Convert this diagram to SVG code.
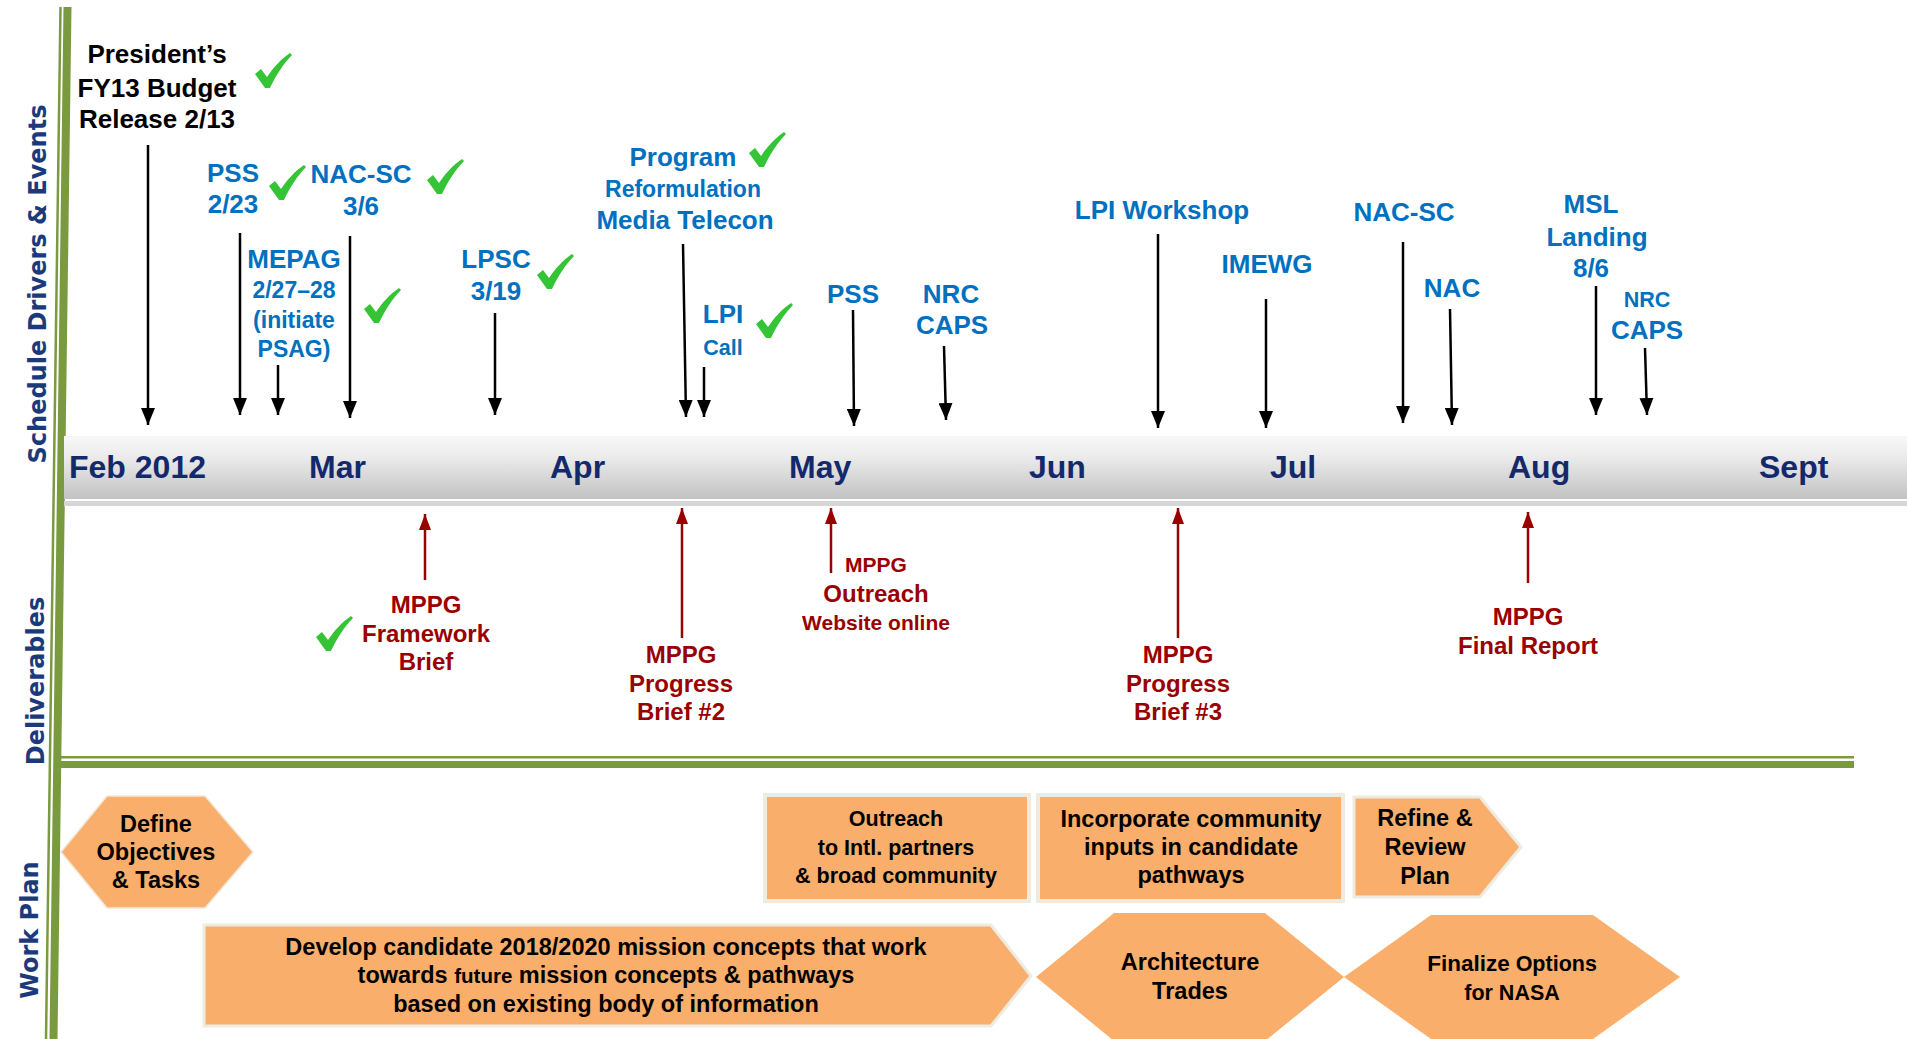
<svg xmlns="http://www.w3.org/2000/svg" xmlns:xlink="http://www.w3.org/1999/xlink" width="1907" height="1039" viewBox="0 0 1907 1039">
<style>
text{font-family:"Liberation Sans",Arial,sans-serif;font-weight:bold;}
.side{font-family:"DejaVu Sans","Liberation Sans",sans-serif;font-size:24px;fill:#1B3A7C;}
.blk{font-size:26px;fill:#000;}
.blu{font-size:26px;fill:#0070C0;text-anchor:middle;}
.blus{font-size:23px;fill:#0070C0;text-anchor:middle;}
.blux{font-size:21.5px;fill:#0070C0;text-anchor:middle;}
.red{font-size:24px;fill:#990000;text-anchor:middle;}
.reds{font-size:21px;fill:#990000;text-anchor:middle;}
.mon{font-size:32px;fill:#13296B;}
.wp{font-size:23.5px;fill:#000;text-anchor:middle;}
.wps{font-size:21.5px;fill:#000;text-anchor:middle;}
.orange{fill:#FAAE6B;}
.frame{fill:#EEEBE0;}
.ba{stroke:#000;stroke-width:2.5;fill:none;marker-end:url(#ah);}
.ra{stroke:#990000;stroke-width:2.5;fill:none;marker-end:url(#rh);}
.green{fill:#7A9A40;}
</style>
<defs>
<linearGradient id="bar" x1="0" y1="0" x2="0" y2="1">
<stop offset="0" stop-color="#F8F8F8"/>
<stop offset="0.35" stop-color="#EAEAEA"/>
<stop offset="1" stop-color="#C2C2C2"/>
</linearGradient>
<marker id="ah" markerWidth="17" markerHeight="14" refX="17" refY="7" orient="auto" markerUnits="userSpaceOnUse" viewBox="0 0 17 14">
<path d="M0,0 L17,7 L0,14 Z" fill="#000"/>
</marker>
<marker id="rh" markerWidth="16" markerHeight="12" refX="16" refY="6" orient="auto" markerUnits="userSpaceOnUse" viewBox="0 0 16 12">
<path d="M0,0 L16,6 L0,12 Z" fill="#990000"/>
</marker>
<path id="chk" d="M0,21 L6,16 L12,24 C18,15 26,6 35,0 L37,2 C29,10 21,22 15,35 L10,35 Z" fill="#35C435"/>
</defs>
<rect width="1907" height="1039" fill="#fff"/>

<!-- frame lines -->
<g id="frame-lines">
<line x1="60.5" y1="7" x2="46" y2="1039" stroke="#7A9A40" stroke-width="2.5"/>
<line x1="67.5" y1="7" x2="53.5" y2="1039" stroke="#7A9A40" stroke-width="8"/>
<rect x="57" y="756" width="1797" height="2.5" class="green"/>
<rect x="57" y="761" width="1797" height="7" class="green"/>
</g>

<!-- lane labels -->
<g id="lane-labels">
<text class="side" text-anchor="middle" transform="translate(46,284) rotate(-90)">Schedule Drivers &amp; Events</text>
<text class="side" text-anchor="middle" transform="translate(44,681) rotate(-90)">Deliverables</text>
<text class="side" text-anchor="middle" transform="translate(38,930) rotate(-90)">Work Plan</text>
</g>

<!-- timeline -->
<g id="timeline">
<rect x="64" y="436" width="1843" height="63" fill="url(#bar)"/>
<rect x="64" y="501" width="1843" height="5" fill="#D6D6D6"/>
<text class="mon" x="69" y="478">Feb 2012</text>
<text class="mon" x="309" y="478">Mar</text>
<text class="mon" x="550" y="478">Apr</text>
<text class="mon" x="789" y="478">May</text>
<text class="mon" x="1029" y="478">Jun</text>
<text class="mon" x="1270" y="478">Jul</text>
<text class="mon" x="1508" y="478">Aug</text>
<text class="mon" x="1759" y="478">Sept</text>
</g>

<!-- connectors -->
<g id="connectors">
<line class="ba" x1="148" y1="145" x2="148" y2="425"/>
<line class="ba" x1="240" y1="233" x2="240" y2="415"/>
<line class="ba" x1="278" y1="365" x2="278" y2="415"/>
<line class="ba" x1="350" y1="236" x2="350" y2="418"/>
<line class="ba" x1="495" y1="313" x2="495" y2="415"/>
<line class="ba" x1="683" y1="244" x2="686" y2="417"/>
<line class="ba" x1="704" y1="367" x2="704" y2="417"/>
<line class="ba" x1="853" y1="310" x2="854" y2="426"/>
<line class="ba" x1="944" y1="346" x2="946" y2="420"/>
<line class="ba" x1="1158" y1="234" x2="1158" y2="428"/>
<line class="ba" x1="1266" y1="299" x2="1266" y2="428"/>
<line class="ba" x1="1403" y1="242" x2="1403" y2="423"/>
<line class="ba" x1="1450" y1="309" x2="1452" y2="425"/>
<line class="ba" x1="1596" y1="286" x2="1596" y2="415"/>
<line class="ba" x1="1645" y1="348" x2="1647" y2="415"/>
<line class="ra" x1="425" y1="580" x2="425" y2="514"/>
<line class="ra" x1="682" y1="638" x2="682" y2="508"/>
<line class="ra" x1="831" y1="573" x2="831" y2="508"/>
<line class="ra" x1="1178" y1="638" x2="1178" y2="508"/>
<line class="ra" x1="1528" y1="583" x2="1528" y2="512"/>
</g>

<!-- events -->
<g id="ev-budget">
<text class="blk" x="157" y="63" text-anchor="middle">President’s</text>
<text class="blk" x="157" y="97" text-anchor="middle">FY13 Budget</text>
<text class="blk" x="157" y="128" text-anchor="middle">Release 2/13</text>
<use xlink:href="#chk" x="255" y="53"/>
</g>
<g id="ev-pss1">
<text class="blu" x="233" y="182">PSS</text>
<text class="blu" x="233" y="213">2/23</text>
<use xlink:href="#chk" x="269" y="165"/>
</g>
<g id="ev-nacsc1">
<text class="blu" x="361" y="183">NAC-SC</text>
<text class="blu" x="361" y="215">3/6</text>
<use xlink:href="#chk" x="427" y="159"/>
</g>
<g id="ev-mepag">
<text class="blu" x="294" y="268">MEPAG</text>
<text class="blus" x="294" y="298">2/27–28</text>
<text class="blus" x="294" y="328">(initiate</text>
<text class="blus" x="294" y="357">PSAG)</text>
<use xlink:href="#chk" x="364" y="288"/>
</g>
<g id="ev-lpsc">
<text class="blu" x="496" y="268">LPSC</text>
<text class="blu" x="496" y="300">3/19</text>
<use xlink:href="#chk" x="537" y="254"/>
</g>
<g id="ev-program">
<text class="blu" x="683" y="166">Program</text>
<text class="blus" x="683" y="197">Reformulation</text>
<text class="blu" x="685" y="229">Media Telecon</text>
<use xlink:href="#chk" x="749" y="132"/>
</g>
<g id="ev-lpicall">
<text class="blu" x="723" y="323">LPI</text>
<text class="blux" x="723" y="355">Call</text>
<use xlink:href="#chk" x="756" y="303"/>
</g>
<g id="ev-pss2"><text class="blu" x="853" y="303">PSS</text></g>
<g id="ev-nrc1">
<text class="blu" x="951" y="303">NRC</text>
<text class="blu" x="952" y="334">CAPS</text>
</g>
<g id="ev-lpiws"><text class="blu" x="1162" y="219">LPI Workshop</text></g>
<g id="ev-imewg"><text class="blu" x="1267" y="273">IMEWG</text></g>
<g id="ev-nacsc2"><text class="blu" x="1404" y="221">NAC-SC</text></g>
<g id="ev-nac"><text class="blu" x="1452" y="297">NAC</text></g>
<g id="ev-msl">
<text class="blu" x="1591" y="213">MSL</text>
<text class="blu" x="1597" y="246">Landing</text>
<text class="blu" x="1591" y="277">8/6</text>
</g>
<g id="ev-nrc2">
<text class="blux" x="1647" y="307">NRC</text>
<text class="blu" x="1647" y="339">CAPS</text>
</g>

<!-- deliverables -->
<g id="dl-framework">
<text class="red" x="426" y="613">MPPG</text>
<text class="red" x="426" y="642">Framework</text>
<text class="red" x="426" y="670">Brief</text>
<use xlink:href="#chk" x="316" y="616"/>
</g>
<g id="dl-progress2">
<text class="red" x="681" y="663">MPPG</text>
<text class="red" x="681" y="692">Progress</text>
<text class="red" x="681" y="720">Brief #2</text>
</g>
<g id="dl-outreach">
<text class="reds" x="876" y="572">MPPG</text>
<text class="red" x="876" y="602">Outreach</text>
<text class="reds" x="876" y="630">Website online</text>
</g>
<g id="dl-progress3">
<text class="red" x="1178" y="663">MPPG</text>
<text class="red" x="1178" y="692">Progress</text>
<text class="red" x="1178" y="720">Brief #3</text>
</g>
<g id="dl-final">
<text class="red" x="1528" y="625">MPPG</text>
<text class="red" x="1528" y="654">Final Report</text>
</g>

<!-- work plan -->
<g id="wp-define">
<polygon class="orange" points="61,852 107,796 205,796 253,852 205,908 107,908" stroke="#F3E9DA" stroke-width="1.5"/>
<text class="wp" x="156" y="832">Define</text>
<text class="wp" x="156" y="860">Objectives</text>
<text class="wp" x="156" y="888">&amp; Tasks</text>
</g>
<g id="wp-outreach">
<rect class="frame" x="763" y="793" width="268" height="110"/>
<rect class="orange" x="767" y="797" width="260" height="102"/>
<text class="wps" x="896" y="826">Outreach</text>
<text class="wps" x="896" y="855">to Intl. partners</text>
<text class="wps" x="896" y="883">&amp; broad community</text>
</g>
<g id="wp-incorporate">
<rect class="frame" x="1036" y="793" width="309" height="110"/>
<rect class="orange" x="1040" y="797" width="301" height="102"/>
<text class="wp" x="1191" y="827">Incorporate community</text>
<text class="wp" x="1191" y="855">inputs in candidate</text>
<text class="wp" x="1191" y="883">pathways</text>
</g>
<g id="wp-refine">
<polygon class="orange" points="1354,797 1480,797 1521,847 1480,897 1354,897" stroke="#EEEBE0" stroke-width="3"/>
<text class="wp" x="1425" y="826">Refine &amp;</text>
<text class="wp" x="1425" y="855">Review</text>
<text class="wp" x="1425" y="884">Plan</text>
</g>
<g id="wp-develop">
<polygon class="orange" points="204,925 991,925 1031,976 991,1026 204,1026" stroke="#EEEBE0" stroke-width="3"/>
<text class="wp" x="606" y="955">Develop candidate 2018/2020 mission concepts that work</text>
<text class="wp" x="606" y="983">towards <tspan font-size="20.5px">future</tspan> mission concepts &amp; pathways</text>
<text class="wp" x="606" y="1012">based on existing body of information</text>
</g>
<g id="wp-architecture">
<polygon class="orange" points="1036,977 1114,913 1265,913 1344,977 1265,1041 1114,1041"/>
<text class="wp" x="1190" y="970">Architecture</text>
<text class="wp" x="1190" y="999">Trades</text>
</g>
<g id="wp-finalize">
<polygon class="orange" points="1344,977 1431,915 1593,915 1680,977 1593,1039 1431,1039"/>
<text class="wps" x="1512" y="971"><tspan font-size="22.5px">Finalize</tspan> Options</text>
<text class="wps" x="1512" y="1000" font-size="20.5px">for NASA</text>
</g>
</svg>
